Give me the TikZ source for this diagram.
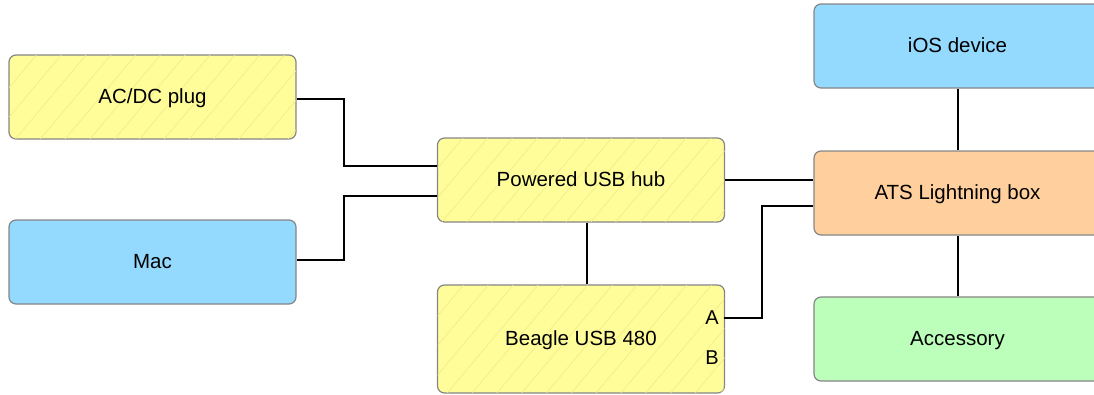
\documentclass[tikz,border=0pt]{standalone}
\usepackage{fontspec}
\setmainfont{Liberation Sans}
\usetikzlibrary{patterns.meta}
\definecolor{ylw}{HTML}{FFFD9A}
\definecolor{ylwline}{HTML}{EEEB88}
\definecolor{blu}{HTML}{94DAFF}
\definecolor{org}{HTML}{FFD09E}
\definecolor{grn}{HTML}{BBFFBB}
\definecolor{bord}{HTML}{858585}
\tikzset{
  box/.style={draw=bord, line width=1.2pt, rounded corners=7pt, minimum width=287pt, minimum height=84pt, font=\fontsize{20.5}{24}\selectfont, inner sep=0pt, text height=13pt, text depth=0pt},
  hatched/.style={box, fill=ylw, postaction={pattern={Lines[angle=50,distance=19pt,line width=0.6pt]}, pattern color=ylwline}},
  wire/.style={line width=1.4pt, black},
  port/.style={font=\fontsize{20}{24}\selectfont, inner sep=0pt}
}
\begin{document}
\begin{tikzpicture}[x=1pt,y=-1pt]
\useasboundingbox (0,0) rectangle (1094,394);
\clip (0,0) rectangle (1094,394);
\node[hatched] (acdc) at (152.5,97) {AC/DC plug};
\node[box, fill=blu] (mac) at (152.5,262) {Mac};
\node[hatched] (hub) at (581,180) {Powered USB hub};
\node[hatched, minimum height=108pt] (beagle) at (581,339) {Beagle USB 480};
\node[box, fill=blu] (ios) at (957.5,46) {iOS device};
\node[box, fill=org] (ats) at (957.5,193) {ATS Lightning box};
\node[box, fill=grn] (acc) at (957.5,339) {Accessory};
\node[port, anchor=east] (pa) at (719,318) {A};
\node[port, anchor=east] (pb) at (719,358) {B};
\coordinate (aport) at (724,318);
\draw[wire] (acdc.east |- 0,99) -| (344,166) -- (hub.west |- 0,166);
\draw[wire] (mac.east |- 0,260) -| (344,196) -- (hub.west |- 0,196);
\draw[wire] (hub.east |- 0,180) -- (ats.west |- 0,180);
\draw[wire] (hub.south -| 587,0) -- (beagle.north -| 587,0);
\draw[wire] (aport) -| (762,206) -- (ats.west |- 0,206);
\draw[wire] (ios.south -| 958,0) -- (ats.north -| 958,0);
\draw[wire] (ats.south -| 958,0) -- (acc.north -| 958,0);
\end{tikzpicture}
\end{document}
